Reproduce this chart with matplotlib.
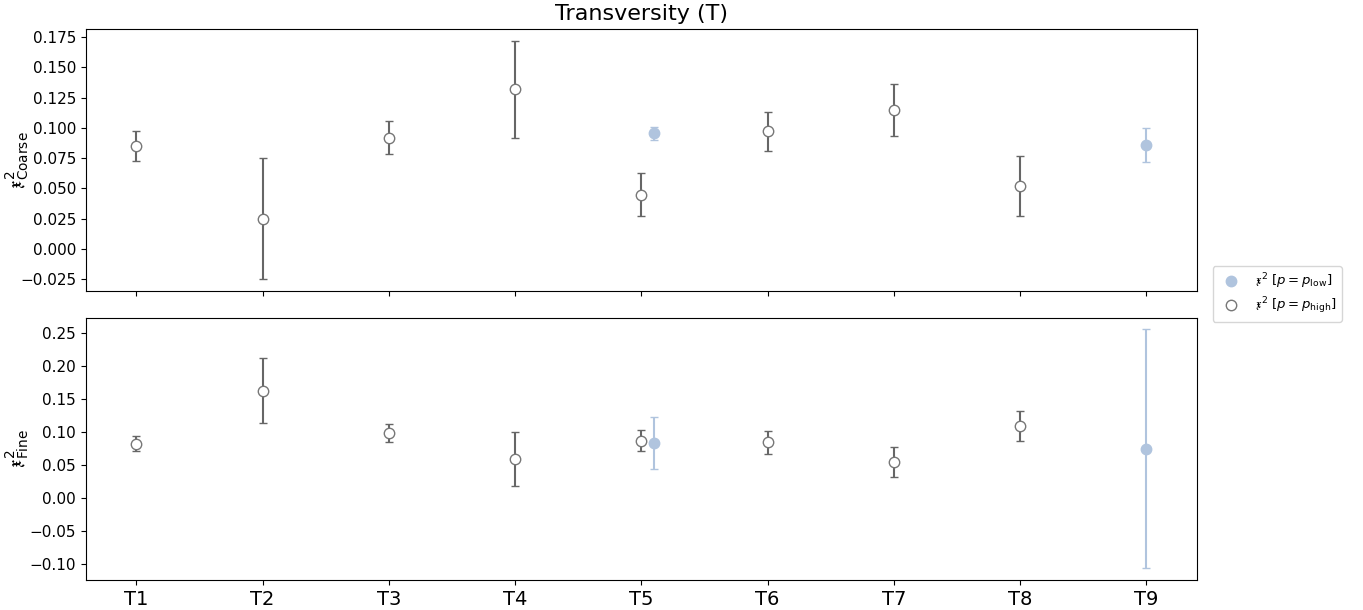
import matplotlib
matplotlib.use("Agg")
from matplotlib import pyplot as plt
import numpy as np

labels = ["T1", "T2", "T3", "T4", "T5", "T6", "T7", "T8", "T9"]

# coarse panel, p = p_high (open markers)
coarse_high_idx = [0, 1, 2, 3, 4, 5, 6, 7]
coarse_high = [0.085, 0.025, 0.092, 0.132, 0.045, 0.097, 0.115, 0.052]
coarse_high_err = [0.012, 0.050, 0.0135, 0.040, 0.018, 0.016, 0.0215, 0.025]
# coarse panel, p = p_low (filled markers)
coarse_low_idx = [4, 8]
coarse_low = [0.0955, 0.086]
coarse_low_err = [0.0055, 0.014]

# fine panel
fine_high_idx = [0, 1, 2, 3, 4, 5, 6, 7]
fine_high = [0.083, 0.163, 0.0985, 0.059, 0.087, 0.085, 0.055, 0.110]
fine_high_err = [0.012, 0.049, 0.0135, 0.041, 0.016, 0.0175, 0.0225, 0.0225]
fine_low_idx = [4, 8]
fine_low = [0.084, 0.075]
fine_low_err = [0.040, 0.181]

low_color = "#b0c4de"
high_color = "#666666"

fig, axes = plt.subplots(2, 1, figsize=(13.63, 6.10), dpi=100, sharex=True)
fig.subplots_adjust(left=0.063, right=0.878, top=0.953, bottom=0.049, hspace=0.1)


def draw_panel(ax, hi_idx, hi, hi_err, lo_idx, lo, lo_err):
    # shift the low point right when both exist at the same position
    lo_x = [i + 0.1 if i in hi_idx else i for i in lo_idx]
    ax.errorbar(lo_x, lo, yerr=lo_err, fmt="o", color=low_color, ms=7.5,
                capsize=3, elinewidth=1.5, label=r"$\mathfrak{x}^2$ $[p = p_{\mathrm{low}}]$")
    ax.errorbar(hi_idx, hi, yerr=hi_err, fmt="o", mfc="white", mec="#777777",
                ecolor=high_color, ms=7.5, capsize=3, elinewidth=1.5,
                label=r"$\mathfrak{x}^2$ $[p = p_{\mathrm{high}}]$")
    ax.tick_params(axis="y", labelsize=11)
    ax.set_xlim(-0.4, 8.4)


draw_panel(axes[0], coarse_high_idx, coarse_high, coarse_high_err,
           coarse_low_idx, coarse_low, coarse_low_err)
draw_panel(axes[1], fine_high_idx, fine_high, fine_high_err,
           fine_low_idx, fine_low, fine_low_err)

axes[0].set_ylabel(r"$\mathfrak{x}^2_{\mathrm{Coarse}}$", fontsize=14)
axes[1].set_ylabel(r"$\mathfrak{x}^2_{\mathrm{Fine}}$", fontsize=14)
# fixed label position, the fraktur glyph has odd metrics
axes[0].yaxis.set_label_coords(-0.049, 0.5)
axes[1].yaxis.set_label_coords(-0.049, 0.5)
axes[0].set_yticks(np.arange(-0.025, 0.176, 0.025))
axes[1].set_yticks(np.arange(-0.10, 0.251, 0.05))
axes[1].set_xticks(range(len(labels)))
axes[1].set_xticklabels(labels, fontsize=14)
axes[0].set_title("Transversity (T)", fontsize=16)

handles, leg_labels = axes[0].get_legend_handles_labels()
handles = [h[0] for h in handles]
fig.legend(handles, leg_labels, loc="center left", bbox_to_anchor=(0.885, 0.518),
           fontsize=9.5, handletextpad=0.8, labelspacing=0.35)

fig.savefig("out.png", dpi=100)
